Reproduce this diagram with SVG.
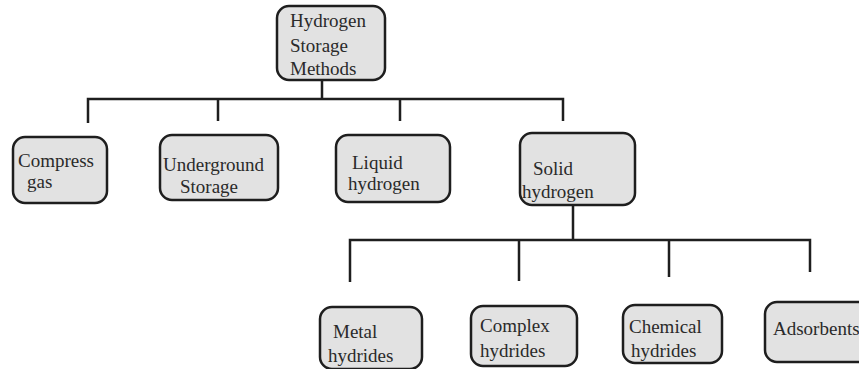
<svg xmlns="http://www.w3.org/2000/svg" width="859" height="369" viewBox="0 0 859 369">
<style>
.box{fill:#e2e2e2;stroke:#1e1e1e;stroke-width:2.5}
.t{font-family:"Liberation Serif","Times New Roman",serif;font-size:19px;fill:#2a2a2a}
.c{fill:none;stroke:#1e1e1e;stroke-width:2.5}
</style>
<rect width="859" height="369" fill="#ffffff"/>
<g id="connectors">
<path class="c" d="M322 80V99M88 123V99H563V121M218 99V121M400 99V121"/>
<path class="c" d="M573 205V240M350 282V240H810V272M519 240V281M669 240V277"/>
</g>
<g id="n-root"><rect class="box" x="277" y="6" width="108" height="74" rx="12"/>
<text class="t" x="290" y="27">Hydrogen</text><text class="t" x="290" y="52">Storage</text><text class="t" x="290" y="75">Methods</text></g>
<g id="n-compress"><rect class="box" x="13" y="137" width="94" height="66" rx="12"/>
<text class="t" x="18" y="167">Compress</text><text class="t" x="27" y="188">gas</text></g>
<g id="n-underground"><rect class="box" x="160" y="135" width="118" height="65" rx="12"/>
<text class="t" x="163" y="171">Underground</text><text class="t" x="180" y="193">Storage</text></g>
<g id="n-liquid"><rect class="box" x="336" y="135" width="114" height="67" rx="12"/>
<text class="t" x="352" y="169">Liquid</text><text class="t" x="348" y="190">hydrogen</text></g>
<g id="n-solid"><rect class="box" x="520" y="133" width="115" height="72" rx="12"/>
<text class="t" x="533" y="175">Solid</text><text class="t" x="522" y="198">hydrogen</text></g>
<g id="n-metal"><rect class="box" x="320" y="307" width="102" height="62" rx="12"/>
<text class="t" x="333" y="338">Metal</text><text class="t" x="328" y="362">hydrides</text></g>
<g id="n-complex"><rect class="box" x="471" y="306" width="106" height="60" rx="12"/>
<text class="t" x="480" y="332">Complex</text><text class="t" x="480" y="357">hydrides</text></g>
<g id="n-chemical"><rect class="box" x="623" y="305" width="99" height="58" rx="12"/>
<text class="t" x="629" y="333">Chemical</text><text class="t" x="631" y="357">hydrides</text></g>
<g id="n-adsorbents"><rect class="box" x="765" y="302" width="110" height="60" rx="12"/>
<text class="t" x="773" y="335">Adsorbents</text></g>
</svg>
